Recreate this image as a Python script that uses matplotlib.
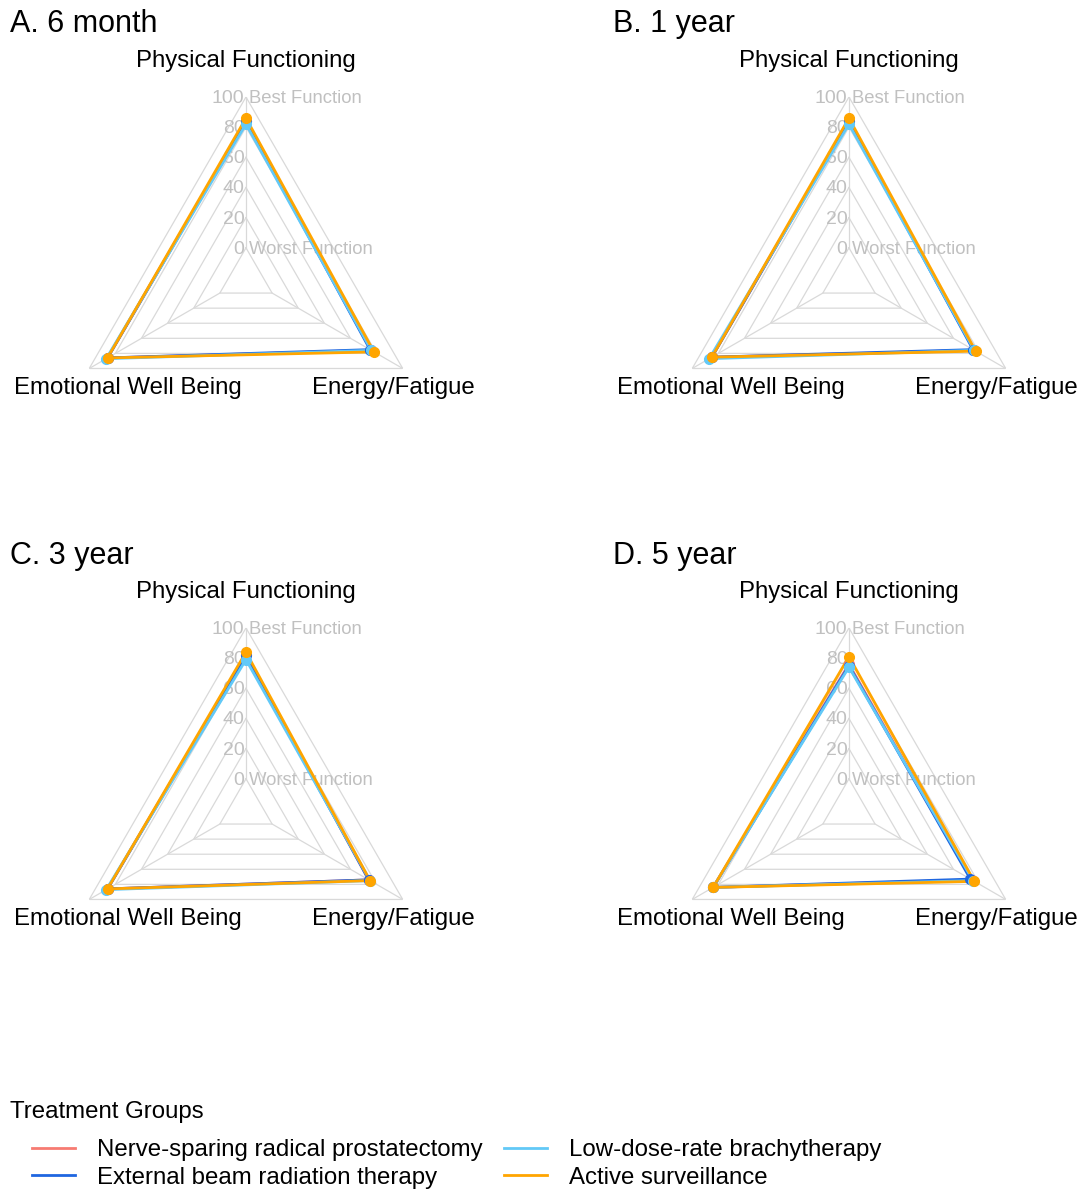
import numpy as np
import matplotlib
matplotlib.use('Agg')
import matplotlib.pyplot as plt
from matplotlib.lines import Line2D

plt.rcParams['font.family'] = ['Liberation Sans', 'DejaVu Sans']

# domains, clockwise from the top
domains = ['Physical Functioning', 'Energy/Fatigue', 'Emotional Well Being']
panels = ['A. 6 month', 'B. 1 year', 'C. 3 year', 'D. 5 year']
groups = ['Nerve-sparing radical prostatectomy', 'External beam radiation therapy',
          'Low-dose-rate brachytherapy', 'Active surveillance']
group_colors = ['#F77B72', '#1F66E0', '#62C9F7', '#FFA500']

# mean scores per group: [physical, energy, emotional]
nsrp = [[84, 76, 86], [84, 76, 85], [82, 74, 86], [76, 74, 84]]
ebrt = [[84, 75, 86], [84, 75, 85], [82, 74, 86], [75, 73, 84]]
ldr = [[82, 76, 87], [82, 76, 87], [79, 75, 87], [74, 75, 84]]
active = [[86, 78, 86], [86, 77, 85], [84, 75, 86], [81, 76, 84]]

grid_levels = [0, 20, 40, 60, 80, 100]
tick_labels = ['0', '20', '40', '60', '80', '100']

fig = plt.figure(figsize=(10.81, 11.9), dpi=100)

# axes boxes (left, bottom, width, height) in figure fraction
boxes = [[0.0601, 0.6143, 0.3349, 0.3042],
         [0.6179, 0.6143, 0.3349, 0.3042],
         [0.0601, 0.1681, 0.3349, 0.3042],
         [0.6179, 0.1681, 0.3349, 0.3042]]
title_pos = [(0.009, 0.9815), (0.567, 0.9815), (0.009, 0.535), (0.567, 0.535)]

theta = np.linspace(0, 2 * np.pi, len(domains), endpoint=False)
theta_closed = np.append(theta, theta[0])

grey_grid = '#d9d9d9'
grey_text = '#c0c0c0'

for p in range(len(panels)):
    ax = fig.add_axes(boxes[p], projection='polar')
    ax.set_theta_zero_location('N')
    ax.set_theta_direction(-1)
    ax.set_ylim(-20, 100)
    ax.grid(False)
    ax.set_xticks([])
    ax.set_yticks([])
    ax.spines['polar'].set_visible(False)
    ax.patch.set_visible(False)

    # triangular grid and spokes
    for lv in grid_levels:
        ax.plot(theta_closed, [lv] * len(theta_closed), color=grey_grid, lw=0.9, zorder=1)
    for t in theta:
        ax.plot([t, t], [0, 100], color=grey_grid, lw=0.9, zorder=1)

    # radial tick labels along the top spoke
    for lv, lab in zip(grid_levels, tick_labels):
        ax.annotate(lab, xy=(0, lv), xytext=(-1, -1), textcoords='offset points',
                    ha='right', va='center', fontsize=14, color=grey_text)
    ax.annotate('Best Function', xy=(0, 100), xytext=(2.5, -1), textcoords='offset points',
                ha='left', va='center', fontsize=13.3, color=grey_text)
    ax.annotate('Worst Function', xy=(0, 0), xytext=(2.5, -1), textcoords='offset points',
                ha='left', va='center', fontsize=13.3, color=grey_text)

    # group profiles, active surveillance drawn on top
    for vals, col in zip([nsrp, ebrt, ldr, active], group_colors):
        v = vals[p]
        ax.plot(theta_closed, v + [v[0]], color=col, lw=2.0, zorder=3,
                solid_joinstyle='round')
        ax.plot(theta, v, 'o', color=col, ms=7, zorder=4)

    # domain labels
    ax.text(0.5, 1.1, domains[0], transform=ax.transAxes, ha='center', va='center', fontsize=17.3)
    ax.text(0.906, 0.195, domains[1], transform=ax.transAxes, ha='center', va='center', fontsize=17.3)
    ax.text(0.174, 0.195, domains[2], transform=ax.transAxes, ha='center', va='center', fontsize=17.3)

    fig.text(title_pos[p][0], title_pos[p][1] - 0.002, panels[p], ha='left', va='center', fontsize=22)

# legend
fig.text(0.009, 1 - 1112 / 1190, 'Treatment Groups', ha='left', va='center', fontsize=17.3)
handles = [Line2D([], [], color=c, lw=2.0) for c in group_colors]
fig.legend(handles, groups, ncol=2, loc='upper left', frameon=False,
           bbox_to_anchor=(32 / 1081, 1 - 1139 / 1190), borderpad=0, borderaxespad=0,
           fontsize=17.3, handlelength=1.8, handletextpad=0.9, columnspacing=0.9,
           labelspacing=0.24)

fig.savefig('out.png', dpi=100)
